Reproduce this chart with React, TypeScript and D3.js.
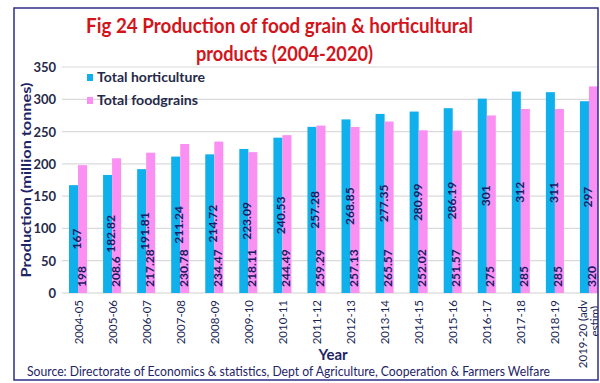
import React from "react";
import * as d3 from "d3";

const categories = [
  "2004-05", "2005-06", "2006-07", "2007-08", "2008-09", "2009-10", "2010-11", "2011-12",
  "2012-13", "2013-14", "2014-15", "2015-16", "2016-17", "2017-18", "2018-19", "2019-20 (adv estim)",
];
const categoryLines = [
  ["2004-05"], ["2005-06"], ["2006-07"], ["2007-08"], ["2008-09"], ["2009-10"], ["2010-11"], ["2011-12"],
  ["2012-13"], ["2013-14"], ["2014-15"], ["2015-16"], ["2016-17"], ["2017-18"], ["2018-19"], ["2019-20 (adv", "estim)"],
];
const horticulture = [167, 182.82, 191.81, 211.24, 214.72, 223.09, 240.53, 257.28, 268.85, 277.35, 280.99, 286.19, 301, 312, 311, 297];
const foodgrains = [198, 208.6, 217.28, 230.78, 234.47, 218.11, 244.49, 259.29, 257.13, 265.57, 252.02, 251.57, 275, 285, 285, 320];
const yTicks = [0, 50, 100, 150, 200, 250, 300, 350];
const seriesNames = ["Total horticulture", "Total foodgrains"];

const W = 600, H = 383;
const BLUE = "#0fb0ec";
const PINK = "#fb90f3";
const NAVY = "#1e2466";
const FONT = "Lato, 'Open Sans', sans-serif";

export default function App() {
  const x0 = d3.scaleBand<string>().domain(categories).range([61, 606]).paddingInner(0.47).paddingOuter(0.235);
  const x1 = d3.scaleBand<string>().domain(["h", "f"]).range([0, x0.bandwidth()]);
  const y = d3.scaleLinear().domain([0, 350]).range([293, 67]);

  return (
    <svg width={W} height={H} style={{ position: "absolute", left: 0, top: 0, background: "#fff" }} fontFamily={FONT}>
      <defs>
        <clipPath id="frame">
          <rect x={14} y={8} width={584} height={372} />
        </clipPath>
      </defs>
      <rect x={0} y={0} width={W} height={H} fill="#fff" />
      <g clipPath="url(#frame)">
        {yTicks.map((t) => (
          <line key={t} x1={62} x2={606} y1={y(t)} y2={y(t)} stroke={t === 0 ? "#cfcfcf" : "#dadada"} strokeWidth={1.2} />
        ))}
        {categories.map((c, i) => {
          const bx = x0(c)!;
          const hx = bx + x1("h")!;
          const fx = bx + x1("f")!;
          const bw = x1.bandwidth();
          return (
            <g key={c}>
              <rect x={hx} y={y(horticulture[i])} width={bw} height={y(0) - y(horticulture[i])} fill={BLUE} />
              <rect x={fx} y={y(foodgrains[i])} width={bw} height={y(0) - y(foodgrains[i])} fill={PINK} />
            </g>
          );
        })}
        {categories.map((c, i) => {
          const bx = x0(c)!;
          const bw = x1.bandwidth();
          const hc = bx + x1("h")! + bw / 2 + 3;
          const fc = bx + x1("f")! + bw / 2 - 1.5;
          const hm = (y(0) + y(horticulture[i])) / 2;
          return (
            <g key={"l" + c} fontSize={12} fontWeight="bold" fill="#1a1a62">
              <text transform={`translate(${hc},${hm}) rotate(-90)`} textAnchor="middle" dominantBaseline="central">
                {String(horticulture[i])}
              </text>
              <text transform={`translate(${fc},${287}) rotate(-90)`} textAnchor="start" dominantBaseline="central">
                {String(foodgrains[i])}
              </text>
            </g>
          );
        })}
        {categories.map((c, i) => {
          const cx = x0(c)! + x0.bandwidth() / 2;
          const lines = categoryLines[i];
          return (
            <g key={"x" + c} fontSize={11.5} fill="#1a1f55">
              {lines.map((ln, k) => (
                <text
                  key={k}
                  transform={`translate(${cx + k * 12 - (lines.length - 1) * 6},${300 + k * 6}) rotate(-90)`}
                  textAnchor="end"
                  dominantBaseline="central"
                >
                  {ln}
                </text>
              ))}
            </g>
          );
        })}
      </g>

      {yTicks.map((t) => (
        <text key={t} x={56} y={y(t)} textAnchor="end" dominantBaseline="central" fontSize={13} fontWeight="bold" fill="#262a48">
          {t}
        </text>
      ))}

      <text
        transform={`translate(26,180) rotate(-90)`}
        textAnchor="middle"
        dominantBaseline="central"
        fontSize={13.5}
        fontWeight="bold"
        fill={NAVY}
        textLength={195}
        lengthAdjust="spacingAndGlyphs"
      >
        Production (million tonnes)
      </text>

      <rect x={87} y={74} width={6} height={7} fill={BLUE} />
      <text x={97} y={82} fontSize={12.5} fontWeight="bold" fill="#262a48" textLength={108} lengthAdjust="spacingAndGlyphs">
        {seriesNames[0]}
      </text>
      <rect x={87} y={97} width={6} height={7} fill={PINK} />
      <text x={97} y={105} fontSize={12.5} fontWeight="bold" fill="#262a48" textLength={101} lengthAdjust="spacingAndGlyphs">
        {seriesNames[1]}
      </text>

      <text x={279.5} y={33} textAnchor="middle" fontSize={21} fontWeight="bold" fill="#d3141b" textLength={387} lengthAdjust="spacingAndGlyphs">
        Fig 24 Production of food grain &amp; horticultural
      </text>
      <text x={284.5} y={61} textAnchor="middle" fontSize={21} fontWeight="bold" fill="#d3141b" textLength={177} lengthAdjust="spacingAndGlyphs">
        products (2004-2020)
      </text>

      <text x={333} y={360} textAnchor="middle" fontSize={15} fontWeight="bold" fill={NAVY}>
        Year
      </text>

      <text x={27} y={376} fontSize={12.5} fill={NAVY} textLength={523} lengthAdjust="spacingAndGlyphs">
        Source: Directorate of Economics &amp; statistics, Dept of Agriculture, Cooperation &amp; Farmers Welfare
      </text>

      <rect x={14} y={8} width={584} height={372} fill="none" stroke="#2e2f86" strokeWidth={1.5} />
    </svg>
  );
}
